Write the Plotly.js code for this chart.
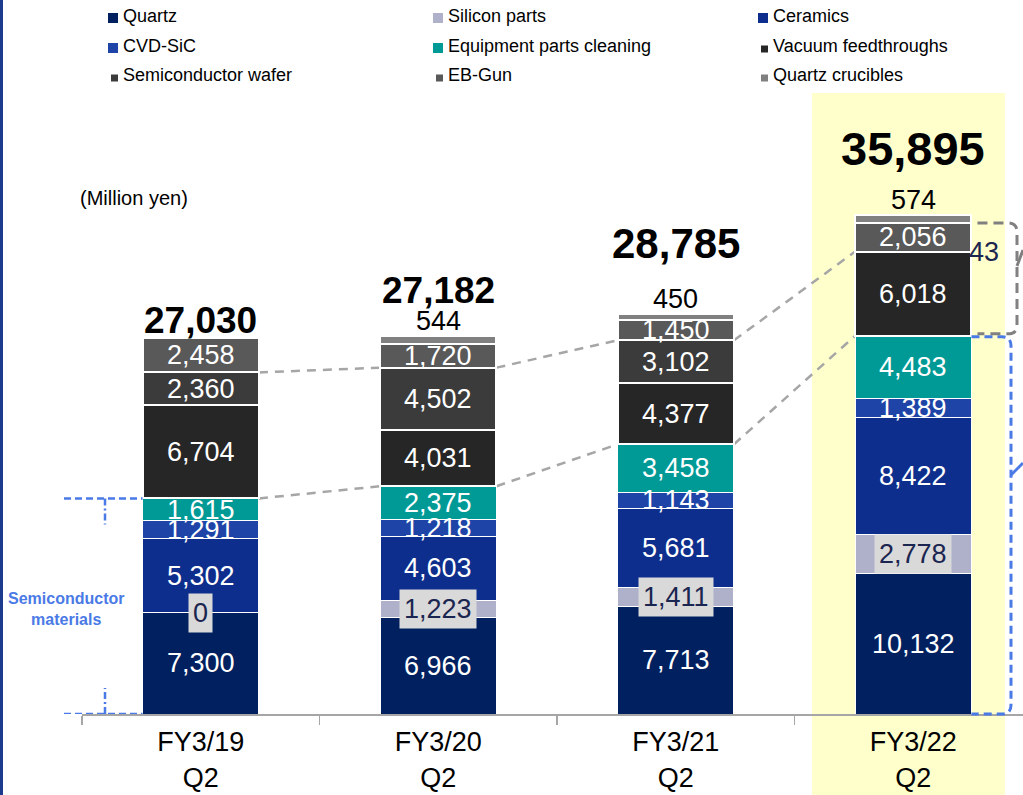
<!DOCTYPE html>
<html><head><meta charset="utf-8">
<script src="https://cdn.plot.ly/plotly-3.0.1.min.js"></script>
<style>html,body{margin:0;padding:0;background:#fff;}#chart{width:1023px;height:795px;}</style>
</head><body><div id="chart"></div>
<script>
// ---------- data ----------
const categories = ['FY3/19<br>Q2', 'FY3/20<br>Q2', 'FY3/21<br>Q2', 'FY3/22<br>Q2'];
const seriesNames = ['Quartz', 'Silicon parts', 'Ceramics', 'CVD-SiC', 'Equipment parts cleaning',
  'Vacuum feedthroughs', 'Semiconductor wafer', 'EB-Gun', 'Quartz crucibles'];
const quartz = [7300, 6966, 7713, 10132];
const siliconParts = [0, 1223, 1411, 2778];
const ceramics = [5302, 4603, 5681, 8422];
const cvdSic = [1291, 1218, 1143, 1389];
const equipmentCleaning = [1615, 2375, 3458, 4483];
const vacuumFeedthroughs = [6704, 4031, 4377, 6018];
const semiconductorWafer = [2360, 4502, 3102, 43];
const ebGun = [2458, 1720, 1450, 2056];
const quartzCrucibles = [0, 544, 450, 574];
const unitLabel = '(Million yen)';
const groupLabel = 'Semiconductor<br>materials';

// ---------- styles ----------
const colors = ['#002060', '#AFB1CA', '#0D2E8C', '#1D44A6', '#009A96', '#262626', '#3B3B3B', '#595959', '#808080'];
const lineWidths = [1, 1, 1, 1, 1, 2, 2, 2, 2];
const legendMarkerSize = [10, 10, 10, 10, 10, 7, 7, 7, 7];
const totalFontSize = [37, 37, 42, 47];
const totalShift = [18, 46, 70, 67];
const FONT = 'Liberation Sans, Arial, sans-serif';

const series = [quartz, siliconParts, ceramics, cvdSic, equipmentCleaning, vacuumFeedthroughs, semiconductorWafer, ebGun, quartzCrucibles];

// ---------- geometry ----------
const W = 1023, H = 795, ML = 82, MR = 0, MT = 60, MB = 81;
const PW = W - ML - MR, PH = H - MT - MB;
const yMax = 47050, xMin = -0.5, xMax = 3.462;
const HALF = 0.245;
const pxX = px => (px - ML) / PW;
const pxY = py => (H - MB - py) / PH;
const dX = v => (v - xMin) / (xMax - xMin);
const dY = v => v / yMax;
const fmt = v => v.toLocaleString('en-US');

// cumulative
const cumTop = series.map(() => []);
for (let i = 0; i < categories.length; i++) {
  let c = 0;
  series.forEach((s, k) => { c += s[i]; cumTop[k][i] = c; });
}
const totals = cumTop[series.length - 1];

// ---------- traces ----------
const traces = series.map((s, k) => ({
  type: 'bar', name: seriesNames[k], x: categories, y: s,
  marker: {color: colors[k], line: {color: '#FFFFFF', width: lineWidths[k]}},
  showlegend: false, hoverinfo: 'name+y'
}));

// ---------- annotations ----------
const ann = [];
series.forEach((s, k) => {
  s.forEach((v, i) => {
    const mid = cumTop[k][i] - v / 2;
    if (k === 1) {
      ann.push({x: categories[i], y: mid, xref: 'x', yref: 'y', text: fmt(v), showarrow: false,
        bgcolor: '#D9D9D9', borderpad: 4, font: {family: FONT, size: 27, color: '#1A2550'}});
    } else if (k === series.length - 1) {
      if (v > 0) ann.push({x: categories[i], y: cumTop[k][i], xref: 'x', yref: 'y', text: fmt(v), showarrow: false,
        yanchor: 'middle', yshift: 15, font: {family: FONT, size: 27, color: '#000'}});
    } else if (v < 300) {
      ann.push({x: dX(i + HALF), y: mid, xref: 'paper', yref: 'y', text: fmt(v), showarrow: false,
        xanchor: 'left', xshift: -4, font: {family: FONT, size: 27, color: '#1A2550'}});
    } else {
      ann.push({x: categories[i], y: mid, xref: 'x', yref: 'y', text: fmt(v), showarrow: false,
        font: {family: FONT, size: 27, color: '#FFFFFF'}});
    }
  });
});
totals.forEach((t, i) => {
  ann.push({x: categories[i], y: t, xref: 'x', yref: 'y', text: '<b>' + fmt(t) + '</b>', showarrow: false,
    yanchor: 'middle', yshift: totalShift[i], font: {family: FONT, size: totalFontSize[i], color: '#000'}});
});
ann.push({x: pxX(78), y: pxY(198), xref: 'paper', yref: 'paper', xanchor: 'left', yanchor: 'middle',
  text: unitLabel, showarrow: false, font: {family: FONT, size: 20, color: '#000'}});
ann.push({x: pxX(66), y: pxY(609), xref: 'paper', yref: 'paper', xanchor: 'center', yanchor: 'middle',
  text: '<b>' + groupLabel + '</b>', showarrow: false, font: {family: FONT, size: 16, color: '#4A7AE6'}});

// legend (manual, 3 columns)
const shapes = [];
const legCols = [113, 438, 763], legRows = [16, 46, 75];
seriesNames.forEach((n, k) => {
  const cx = legCols[k % 3], cy = legRows[Math.floor(k / 3)];
  const sz = legendMarkerSize[k];
  const mcy = cy + (sz < 10 ? 3 : 2);
  shapes.push({type: 'rect', xref: 'paper', yref: 'paper', x0: pxX(cx + 5 - sz), x1: pxX(cx + 5),
    y0: pxY(mcy + sz / 2), y1: pxY(mcy - sz / 2), fillcolor: colors[k], line: {width: 0}, layer: 'above'});
  ann.push({x: pxX(cx + 8), y: pxY(cy), xref: 'paper', yref: 'paper', xanchor: 'left', yanchor: 'middle',
    text: n, showarrow: false, font: {family: FONT, size: 18, color: '#000'}});
});

// ---------- decorative shapes ----------
shapes.push({type: 'rect', xref: 'paper', yref: 'paper', x0: dX(2.574), x1: dX(3.386), y0: pxY(795), y1: pxY(93),
  fillcolor: '#FFFFCC', line: {width: 0}, layer: 'below'});
shapes.push({type: 'rect', xref: 'paper', yref: 'paper', x0: pxX(0), x1: pxX(3), y0: pxY(795), y1: pxY(0),
  fillcolor: '#1E3A8F', line: {width: 0}, layer: 'above'});
const kTeal = 4, kWafer = 6;
for (let i = 0; i < categories.length - 1; i++) {
  [kTeal, kWafer].forEach(k => {
    shapes.push({type: 'line', xref: 'paper', yref: 'y', x0: dX(i + HALF), x1: dX(i + 1 - HALF),
      y0: cumTop[k][i], y1: cumTop[k][i + 1], line: {color: '#A6A6A6', width: 2.5, dash: '9px,7px'}, layer: 'below'});
  });
}
const blue = '#4A7AE6';
const leftEdge0 = dX(0 - HALF);
[cumTop[kTeal][0], 0].forEach(v => {
  shapes.push({type: 'line', xref: 'paper', yref: 'y', x0: pxX(64), x1: leftEdge0, y0: v, y1: v,
    line: {color: blue, width: 2.5, dash: '7px,4px'}, layer: 'above'});
});
shapes.push({type: 'line', xref: 'paper', yref: 'paper', x0: pxX(105), x1: pxX(105),
  y0: dY(cumTop[kTeal][0]), y1: dY(cumTop[kTeal][0]) - 26 / PH, line: {color: blue, width: 2.5, dash: '7px,3px,2px,3px'}});
shapes.push({type: 'line', xref: 'paper', yref: 'paper', x0: pxX(105), x1: pxX(105),
  y0: 0, y1: 26 / PH, line: {color: blue, width: 2.5, dash: '7px,3px,2px,3px'}});
const rx = PW, ry = PH;
const last = categories.length - 1;
const bx0 = dX(last + HALF);
function roundBox(x0, xr, yTop, yBot, r) {
  const rX = r / rx, rY = r / ry;
  return `M ${x0},${yTop} L ${xr - rX},${yTop} Q ${xr},${yTop} ${xr},${yTop - rY} L ${xr},${yBot + rY} Q ${xr},${yBot} ${xr - rX},${yBot} L ${x0},${yBot}`;
}
shapes.push({type: 'path', xref: 'paper', yref: 'paper',
  path: roundBox(bx0, pxX(1011), dY(cumTop[kTeal][last]) - 1 / ry, 0, 9),
  line: {color: blue, width: 3, dash: '8px,5px'}, layer: 'above'});
shapes.push({type: 'line', xref: 'paper', yref: 'paper', x0: pxX(1011), x1: pxX(1023), y0: pxY(475), y1: pxY(463),
  line: {color: blue, width: 3}});
shapes.push({type: 'path', xref: 'paper', yref: 'paper',
  path: roundBox(bx0 + 6 / rx, pxX(1017), dY(cumTop[7][last]), dY(cumTop[kTeal][last]) + 2 / ry, 9),
  line: {color: '#808080', width: 3, dash: '10px,6px'}, layer: 'above'});
shapes.push({type: 'line', xref: 'paper', yref: 'paper', x0: pxX(1017), x1: pxX(1023), y0: pxY(266), y1: pxY(250),
  line: {color: '#808080', width: 3}});

const layout = {
  width: W, height: H,
  margin: {l: ML, r: MR, t: MT, b: MB, pad: 0},
  paper_bgcolor: '#FFFFFF', plot_bgcolor: 'rgba(0,0,0,0)',
  barmode: 'stack', bargap: 0.51,
  showlegend: false,
  font: {family: FONT, color: '#000'},
  xaxis: {type: 'category', range: [xMin, xMax], showline: true, linecolor: '#A6A6A6', linewidth: 2,
    ticks: 'outside', ticklen: 9, tickwidth: 1.5, tickcolor: '#A6A6A6', tickson: 'boundaries',
    ticklabelstandoff: 3,
    tickfont: {family: FONT, size: 27, color: '#000'}, showgrid: false, zeroline: false, fixedrange: true},
  yaxis: {range: [0, yMax], visible: false, showgrid: false, zeroline: false, fixedrange: true},
  annotations: ann, shapes: shapes
};
Plotly.newPlot('chart', traces, layout, {displayModeBar: false, staticPlot: true});
</script></body></html>
